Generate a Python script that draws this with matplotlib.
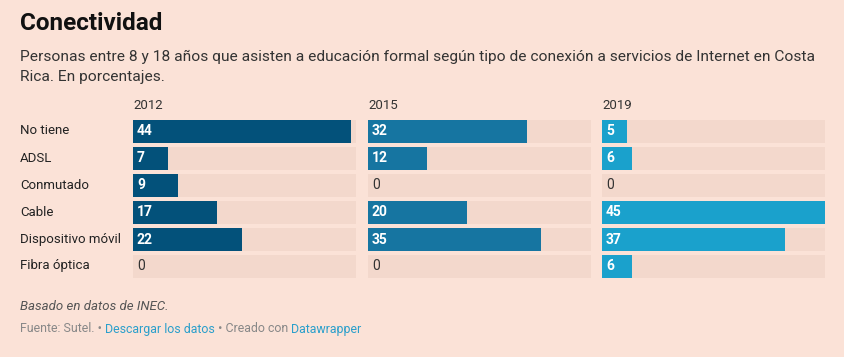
import matplotlib.pyplot as plt

plt.rcParams['font.family'] = ['Roboto', 'DejaVu Sans']

categorias = ['No tiene', 'ADSL', 'Conmutado', 'Cable', 'Dispositivo móvil', 'Fibra óptica']
anios = ['2012', '2015', '2019']
valores_2012 = [44, 7, 9, 17, 22, 0]
valores_2015 = [32, 12, 0, 20, 35, 0]
valores_2019 = [5, 6, 0, 45, 37, 6]
colores = ['#03517a', '#1675a1', '#1aa1cc']

fondo = '#fbe2d7'
pista = '#f3d8cc'
W, H = 845, 357

fig = plt.figure(figsize=(W / 100, H / 100), dpi=100, facecolor=fondo)

def px(x, y):
    return x / W, 1 - y / H

fig.text(*px(20, 23), 'Conectividad', fontsize=17.5, fontweight='bold', color='#111111', va='center')
fig.text(*px(20, 57), 'Personas entre 8 y 18 años que asisten a educación formal según tipo de conexión a servicios de Internet en Costa',
         fontsize=11.15, color='#333333', va='center')
fig.text(*px(20, 77), 'Rica. En porcentajes.', fontsize=11.15, color='#333333', va='center')

lefts = [133, 368, 602]
ancho = 223
top, alto = 118, 162
maximo = 45

for k, vals in enumerate([valores_2012, valores_2015, valores_2019]):
    ax = fig.add_axes([lefts[k] / W, 1 - (top + alto) / H, ancho / W, alto / H])
    ax.set_facecolor('none')
    n = len(categorias)
    ax.barh(range(n), [maximo] * n, height=0.85, color=pista)
    ax.barh(range(n), vals, height=0.85, color=colores[k])
    for i, v in enumerate(vals):
        if v > 0:
            ax.text(0.8, i, str(v), color='white', fontweight='bold', fontsize=10, va='center')
        else:
            ax.text(0.8, i, str(v), color='#333333', fontsize=10, va='center')
    ax.set_xlim(0, maximo)
    ax.set_ylim(n - 0.5, -0.5)
    ax.axis('off')
    fig.text(*px(lefts[k], 105), anios[k], fontsize=9.5, color='#333333', va='center')

for i, c in enumerate(categorias):
    fig.text(*px(20, 131 + 27 * i), c, fontsize=9.5, color='#222222', va='center')

fig.text(*px(20, 307), 'Basado en datos de INEC.', fontsize=9.5, style='italic', color='#555555', va='center')

# pie con enlaces en otro color
piezas = [('Fuente: Sutel. • ', '#888888'), ('Descargar los datos', '#2a9fcb'),
          (' • Creado con ', '#888888'), ('Datawrapper', '#2a9fcb')]
fig.canvas.draw()
r = fig.canvas.get_renderer()
x = 20
for t, col in piezas:
    txt = fig.text(*px(x, 329), t, fontsize=8.9, color=col, va='center')
    x += txt.get_window_extent(renderer=r).width

fig.savefig('out.png', dpi=100, facecolor=fondo)
